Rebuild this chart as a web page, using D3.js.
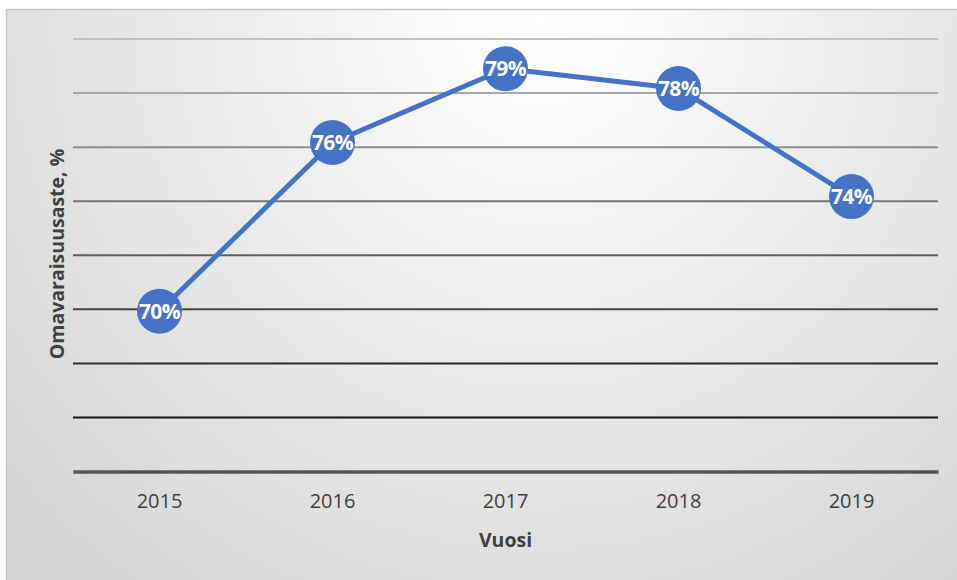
<!DOCTYPE html>
<html>
<head>
<meta charset="utf-8">
<script src="https://cdn.jsdelivr.net/npm/d3@7"></script>
<style>
  body { margin: 0; background: #fff; }
  svg { display: block; }
</style>
</head>
<body>
<div id="chart"></div>
<script>
// chart data
var years = ["2015", "2016", "2017", "2018", "2019"];
var values = [69.93, 76.17, 78.9, 78.17, 74.17];
var labels = ["70%", "76%", "79%", "78%", "74%"];
var yTicks = [64, 66, 68, 70, 72, 74, 76, 78, 80];

var W = 957, H = 580;
var margin = {top: 39, right: 19, bottom: 108.5, left: 73};
var width = W - margin.left - margin.right,
    height = H - margin.top - margin.bottom;

var svg = d3.select("#chart").append("svg")
    .attr("width", W)
    .attr("height", H);

// background gradient
var defs = svg.append("defs");
var grad = defs.append("radialGradient")
    .attr("id", "bg")
    .attr("gradientUnits", "userSpaceOnUse")
    .attr("cx", 540).attr("cy", 20).attr("r", 700);
grad.append("stop").attr("offset", "0%").attr("stop-color", "#ffffff");
grad.append("stop").attr("offset", "100%").attr("stop-color", "#d6d6d6");

svg.append("rect")
    .attr("x", 6.5).attr("y", 9.5)
    .attr("width", W + 10).attr("height", H + 10)
    .attr("fill", "url(#bg)")
    .attr("stroke", "#c6c6c6")
    .attr("stroke-width", 1.5);

var g = svg.append("g")
    .attr("transform", "translate(" + margin.left + "," + margin.top + ")");

// scales
var x = d3.scaleBand().domain(years).range([0, width]);
var y = d3.scaleLinear().domain([64, 80]).range([height, 0]);

// gridlines, getting darker toward the bottom
var lineColor = d3.scaleLinear().domain([80, 66]).range(["#c0c0c0", "#141414"]);
g.selectAll(".grid")
    .data(yTicks.filter(function(d) { return d > 64; }))
  .enter().append("line")
    .attr("class", "grid")
    .attr("x1", 0).attr("x2", width)
    .attr("y1", function(d) { return y(d); })
    .attr("y2", function(d) { return y(d); })
    .attr("stroke", function(d) { return lineColor(d); })
    .attr("stroke-width", 2);

// x axis
var xAxis = g.append("g")
    .attr("transform", "translate(0," + height + ")")
    .call(d3.axisBottom(x).tickSize(0).tickPadding(22));
xAxis.select(".domain")
    .attr("stroke", "#555555")
    .attr("stroke-width", 3.5);
xAxis.selectAll("text")
    .attr("fill", "#404040")
    .attr("font-family", "'Open Sans', sans-serif")
    .attr("font-size", "20px");

// the line
var valueline = d3.line()
    .x(function(d, i) { return x(years[i]) + x.bandwidth() / 2; })
    .y(function(d) { return y(d); });

g.append("path")
    .datum(values)
    .attr("fill", "none")
    .attr("stroke", "#4472C4")
    .attr("stroke-width", 5)
    .attr("stroke-linejoin", "round")
    .attr("d", valueline);

// markers with labels
var pts = g.selectAll(".pt")
    .data(values)
  .enter().append("g")
    .attr("class", "pt")
    .attr("transform", function(d, i) {
      return "translate(" + (x(years[i]) + x.bandwidth() / 2) + "," + y(d) + ")";
    });

pts.append("circle")
    .attr("r", 22.5)
    .attr("fill", "#4472C4");

pts.append("text")
    .attr("text-anchor", "middle")
    .attr("dy", "0.36em")
    .attr("fill", "#fff")
    .attr("font-family", "'Open Sans', sans-serif")
    .attr("font-weight", "bold")
    .attr("font-size", "21px")
    .attr("letter-spacing", "-0.6px")
    .text(function(d, i) { return labels[i]; });

// axis titles
svg.append("text")
    .attr("x", margin.left + width / 2)
    .attr("y", 547)
    .attr("text-anchor", "middle")
    .attr("fill", "#404040")
    .attr("font-family", "'Open Sans', sans-serif")
    .attr("font-weight", "bold")
    .attr("font-size", "19.5px")
    .text("Vuosi");

svg.append("text")
    .attr("transform", "translate(64," + 254 + ") rotate(-90)")
    .attr("text-anchor", "middle")
    .attr("fill", "#404040")
    .attr("font-family", "'Open Sans', sans-serif")
    .attr("font-weight", "bold")
    .attr("font-size", "19.5px")
    .text("Omavaraisuusaste, %");
</script>
</body>
</html>
